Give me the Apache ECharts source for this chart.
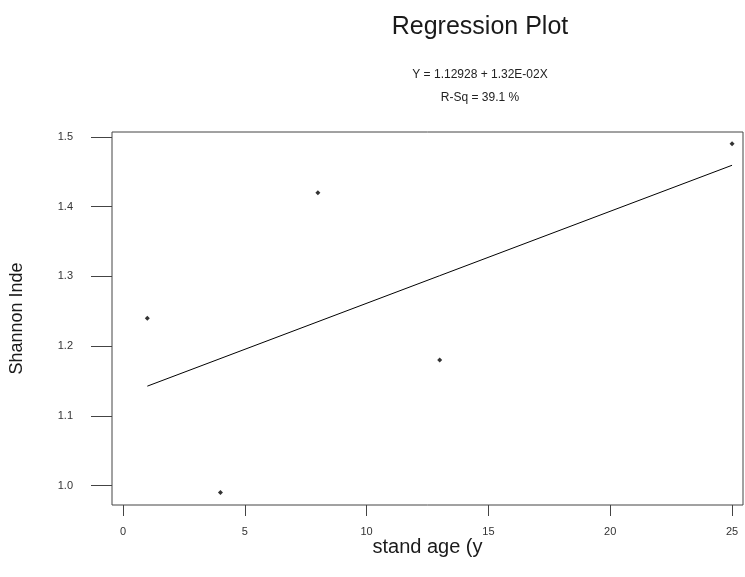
<!DOCTYPE html>
<html>
<head>
<meta charset="utf-8">
<script src="https://cdn.jsdelivr.net/npm/echarts@6/dist/echarts.min.js"></script>
<style>
html,body{margin:0;padding:0;background:#fff;}
#chart{width:745px;height:577px;}
</style>
</head>
<body>
<div id="chart"></div>
<script>
// Data
const standAge = [1, 4, 8, 13, 25];
const shannon = [1.24, 0.99, 1.42, 1.18, 1.49];
const fitX = [1, 25];
const intercept = 1.12928;
const slope = 0.0132;
const fitY = fitX.map(x => intercept + slope * x);
const xTicks = [0, 5, 10, 15, 20, 25];
const yTicks = [1.0, 1.1, 1.2, 1.3, 1.4, 1.5];

const titleText = 'Regression Plot';
const eqText = 'Y = 1.12928 + 1.32E-02X';
const rsqText = 'R-Sq = 39.1 %';
const xName = 'stand age (y';
const yName = 'Shannon Inde';

const font = 'Liberation Sans, Arial, sans-serif';
const chart = echarts.init(document.getElementById('chart'), null, {renderer: 'canvas'});
chart.setOption({
  backgroundColor: '#fff',
  animation: false,
  title: [
    {text: titleText, left: 475, top: 10, textAlign: 'center',
     textStyle: {fontFamily: font, fontSize: 25, fontWeight: 'normal', color: '#1a1a1a'}},
    {text: eqText, left: 475, top: 64, textAlign: 'center',
     textStyle: {fontFamily: font, fontSize: 12, fontWeight: 'normal', color: '#222'}},
    {text: rsqText, left: 475, top: 87, textAlign: 'center',
     textStyle: {fontFamily: font, fontSize: 12, fontWeight: 'normal', color: '#222'}}
  ],
  grid: {left: 112, right: 2, top: 132, bottom: 72, show: true, borderColor: '#444', borderWidth: 1, backgroundColor: 'transparent'},
  xAxis: {
    type: 'value', min: -0.45, max: 25.45,
    name: xName, nameLocation: 'middle', nameGap: 32, nameMoveOverlap: false,
    nameTextStyle: {fontFamily: font, fontSize: 20, color: '#1a1a1a'},
    axisLine: {show: false, onZero: false},
    splitLine: {show: false},
    axisTick: {show: true, length: 11, lineStyle: {color: '#444'}, customValues: xTicks},
    axisLabel: {fontFamily: font, fontSize: 11, color: '#333', margin: 21, customValues: xTicks,
      formatter: v => String(v)}
  },
  yAxis: {
    type: 'value', min: 0.972, max: 1.507,
    name: yName, nameLocation: 'middle', nameGap: 86, nameRotate: 90, nameMoveOverlap: false,
    nameTextStyle: {fontFamily: font, fontSize: 18, color: '#1a1a1a'},
    axisLine: {show: false, onZero: false},
    splitLine: {show: false},
    axisTick: {show: true, length: 21, lineStyle: {color: '#444'}, customValues: yTicks},
    axisLabel: {fontFamily: font, fontSize: 11, color: '#333', margin: 39, customValues: yTicks,
      formatter: v => v.toFixed(1)}
  },
  series: [
    {type: 'scatter', data: standAge.map((x, i) => [x, shannon[i]]),
     symbol: 'diamond', symbolSize: 5, itemStyle: {color: '#000'}},
    {type: 'line', data: fitX.map((x, i) => [x, fitY[i]]), symbol: 'none',
     lineStyle: {color: '#000', width: 1}}
  ]
});
</script>
</body>
</html>
